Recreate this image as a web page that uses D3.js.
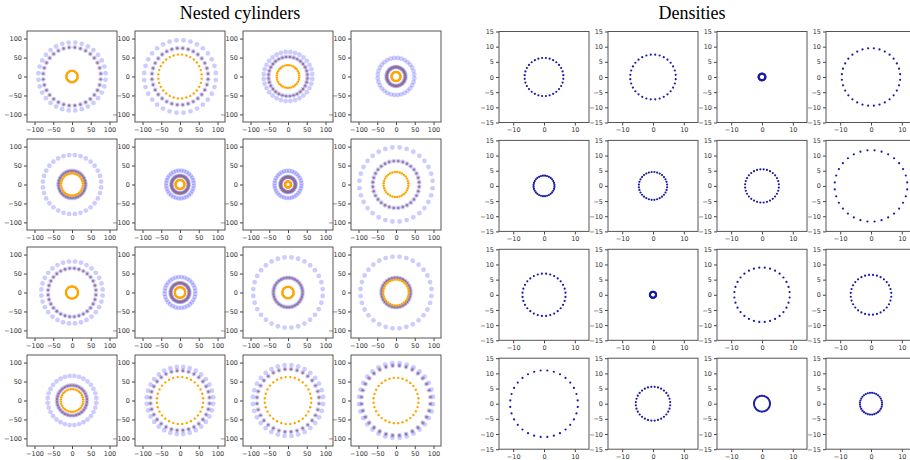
<!DOCTYPE html>
<html><head><meta charset="utf-8">
<script src="https://cdn.jsdelivr.net/npm/d3@7"></script>
<style>body{margin:0;background:#fff}svg{display:block}</style>
</head><body>
<svg id="c" width="910" height="460"></svg>
<script>
// ---- data ----
const titles = ["Nested cylinders", "Densities"];
// per panel (row-major): outer ring radius, middle ring radius, inner ring radius
const outerR = [90, 96, 65, 49,  78, 37, 36, 98,  82, 41, 93, 95,  65, 89, 94, 99];
const middleR = [77, 75, 52, 25, 36, 23, 20, 62,  64, 25, 39, 39,  40, 79, 83, 92];
const innerR = [15, 58, 30, 12,  29, 12,  8, 33,  16, 14, 15, 34,  30, 62, 62, 60];
// densities panels: ring radius
const densR = [6.3, 7.4, 1.1, 9.5,  3.4, 4.6, 5.5, 11.8,  7.0, 1.0, 9.0, 6.6,  11.0, 5.6, 2.6, 3.6];
const nPoints = 32;
const leftTicks = [-100, -50, 0, 50, 100];
const rightXTicks = [-10, 0, 10];
const rightYTicks = [-15, -10, -5, 0, 5, 10, 15];

const svg = d3.select("#c");
const angles = d3.range(nPoints).map(k => (k + 0.5) * 2 * Math.PI / nPoints);

function panel(x0, y0, w, h, xdom, ydom, xt, yt) {
  const g = svg.append("g").attr("transform", `translate(${x0},${y0})`);
  const x = d3.scaleLinear().domain(xdom).range([0, w]);
  const y = d3.scaleLinear().domain(ydom).range([h, 0]);
  const styleAxis = a => {
    a.select(".domain").remove();
    a.selectAll("line").attr("stroke", "#444");
    a.selectAll("text").attr("fill", "#333").style("font-family", "DejaVu Sans").style("font-size", "6.5px");
  };
  g.append("g").attr("transform", `translate(0,${h})`)
    .call(d3.axisBottom(x).tickValues(xt).tickSize(3).tickPadding(2).tickFormat(d => d < 0 ? "\u2212" + (-d) : d)).call(styleAxis);
  g.append("g")
    .call(d3.axisLeft(y).tickValues(yt).tickSize(3).tickPadding(2).tickFormat(d => d < 0 ? "\u2212" + (-d) : d)).call(styleAxis);
  const plot = g.append("g");
  g.append("rect").attr("width", w).attr("height", h).attr("fill", "none").attr("stroke", "#555").attr("stroke-width", 1);
  return {plot, x, y};
}

function ring(p, r, rad, fill, op) {
  p.plot.append("g").selectAll("circle").data(angles).join("circle")
    .attr("cx", a => p.x(r * Math.cos(a)))
    .attr("cy", a => p.y(r * Math.sin(a)))
    .attr("r", rad).attr("fill", fill).attr("fill-opacity", op);
}

// titles
svg.append("text").attr("x", 240).attr("y", 19).attr("text-anchor", "middle")
  .style("font-family", "Liberation Serif").style("font-size", "18px").text(titles[0]);
svg.append("text").attr("x", 692).attr("y", 19).attr("text-anchor", "middle")
  .style("font-family", "Liberation Serif").style("font-size", "18px").text(titles[1]);

// left grid
for (let i = 0; i < 16; i++) {
  const row = Math.floor(i / 4), col = i % 4;
  const p = panel(27 + 108 * col, 31 + 108 * row, 90, 91, [-120, 120], [-120, 120], leftTicks, leftTicks);
  ring(p, outerR[i], 2.4, "blue", 0.2);
  ring(p, middleR[i], 2.4, "blue", 0.2);
  ring(p, middleR[i], 1.2, "#94686e", 0.85);
  ring(p, innerR[i], 1.2, "orange", 1);
}

// right grid
for (let i = 0; i < 16; i++) {
  const row = Math.floor(i / 4), col = i % 4;
  const p = panel(499 + 109 * col, 31.5 + 108.9 * row, 90, 91, [-14.6, 14.6], [-15, 15], rightXTicks, rightYTicks);
  ring(p, densR[i], 1.1, "#1a1aa8", 1);
}
</script>
</body></html>
